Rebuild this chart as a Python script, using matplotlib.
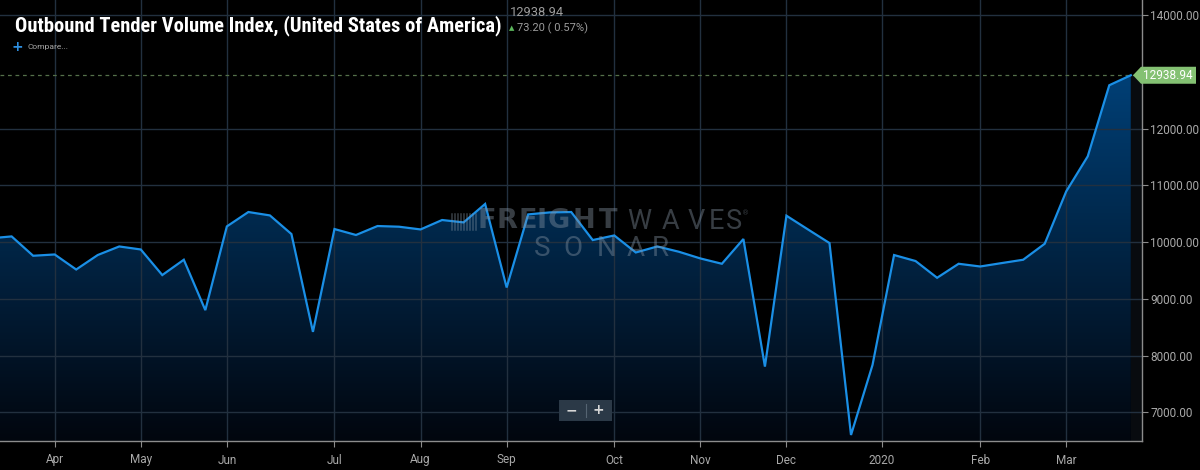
import numpy as np
import pandas as pd
import matplotlib
matplotlib.use('Agg')
import matplotlib.pyplot as plt
from matplotlib.colors import LinearSegmentedColormap
from matplotlib.patches import Polygon, Rectangle
from matplotlib.lines import Line2D

# ---------------- data ----------------
dates = pd.date_range('2019-03-17', '2020-03-22', freq='7D')   # weekly (Sundays)
values = [10065, 10099, 9758, 9781, 9516, 9771, 9922, 9869, 9418, 9688,
          8800, 10275, 10529, 10469, 10141, 8417, 10229, 10124, 10282, 10270,
          10222, 10388, 10346, 10671, 9199, 10487, 10522, 10529, 10035, 10116,
          9816, 9922, 9829, 9711, 9617, 10053, 7805, 10464, 10222, 9982,
          6600, 7835, 9771, 9665, 9370, 9617, 9569, 9629, 9688, 9970,
          10893, 11511, 12763, 12938.94]
y_ticks = [7000, 8000, 9000, 10000, 11000, 12000, 14000]
title = 'Outbound Tender Volume Index, (United States of America)'
last_value_text = '12938.94'
change_text = '73.20 ( 0.57%)'

# ---------------- figure ----------------
W, H = 1200, 470
fig = plt.figure(figsize=(W / 100, H / 100), dpi=100, facecolor='black')
def fx(px): return px / W
def fy(py): return 1 - py / H

ax = fig.add_axes([0, fy(441), fx(1142), 1 - fy(441)])
ax.set_facecolor('black')

x = np.arange(len(values)) - 1
vals = np.array(values, dtype=float)
ymin, ymax = 6494, 14265
xmin, xmax = -0.54, 52.52
ax.set_xlim(xmin, xmax)
ax.set_ylim(ymin, ymax)

# faint band right of the last point
ax.fill_between([x[-1], xmax], ymin, vals[-1], color='#080b0f', zorder=0.5, lw=0)

# gradient fill under the line
cmap = LinearSegmentedColormap.from_list('g', [(0, '#02060e'), (0.82, '#003f75'), (1.0, '#004a88')])
grad = np.linspace(0, 1, 256).reshape(-1, 1)
im = ax.imshow(grad, extent=[xmin, xmax, ymin, ymax], origin='lower', aspect='auto',
               cmap=cmap, zorder=1, interpolation='bicubic')
verts = list(zip(x, vals)) + [(x[-1], ymin), (x[0], ymin)]
poly = Polygon(verts, closed=True, facecolor='none', edgecolor='none', transform=ax.transData)
ax.add_patch(poly)
im.set_clip_path(poly)

ax.plot(x, vals, color='#1a8fe6', lw=1.6, zorder=4, solid_joinstyle='miter')

# last value dashed line
ax.axhline(vals[-1], color='#55704a', lw=0.9, ls=(0, (3, 3)), zorder=3)

# ticks: first weekly point of each month; year label at Jan 1
month_starts = pd.date_range('2019-04-01', '2020-03-01', freq='MS')
tick_pos, tick_lab = [], []
for m in month_starts:
    idx = int(np.argmax(dates >= m))
    if m.month == 1:
        pos = (idx - 1) + (m - dates[idx - 1]).days / 7.0 - 1
        tick_lab.append(str(m.year))
    else:
        pos = idx - 1
        tick_lab.append(m.strftime('%b'))
    tick_pos.append(pos)

ax.set_xticks(tick_pos)
ax.set_xticklabels(tick_lab)
ax.set_yticks(y_ticks)
ax.set_yticklabels([f'{v:.2f}' for v in y_ticks])
ax.yaxis.tick_right()
ax.grid(True, color='#22303f', lw=1.0, zorder=2)
ax.set_axisbelow(False)
for gl in ax.get_xgridlines() + ax.get_ygridlines():
    gl.set_zorder(2)

for s in ['left', 'top']:
    ax.spines[s].set_visible(False)
for s in ['right', 'bottom']:
    ax.spines[s].set_color('#8c8c8c')
    ax.spines[s].set_linewidth(1.0)
    ax.spines[s].set_zorder(5)

tick_font = ['Roboto', 'DejaVu Sans']
ax.tick_params(axis='both', colors='#8c8c8c', length=4, width=0.8, labelcolor='#a9a9a9',
               labelsize=8.5)
ax.tick_params(axis='x', pad=5)
ax.tick_params(axis='y', pad=2)
for lab in ax.get_xticklabels() + ax.get_yticklabels():
    lab.set_family(tick_font)

# price tag on right axis
ty = ax.transData.transform((0, vals[-1]))[1] / (fig.dpi * fig.get_figheight())
th = 17 / H
tag = Polygon([(fx(1133), ty), (fx(1141), ty + th / 2), (fx(1196), ty + th / 2),
               (fx(1196), ty - th / 2), (fx(1141), ty - th / 2)], closed=True,
              transform=fig.transFigure, facecolor='#84c173', edgecolor='none', zorder=10)
fig.patches.append(tag)
fig.text(fx(1168), ty, last_value_text, color='white', fontsize=8.5, ha='center', va='center',
         family=tick_font, zorder=11)

# title and header texts
fig.text(fx(15), fy(31.5), title, color='white', fontsize=14.8, fontweight='bold',
         family=['Roboto Condensed', 'Liberation Sans Narrow', 'DejaVu Sans'], va='baseline')
fig.text(fx(510), fy(12), last_value_text, color='#9c9c9c', fontsize=9.3, va='center', family=tick_font)
fig.text(fx(512), fy(28), '\u25B2', color='#5cb85c', fontsize=5, va='center', ha='center',
         family=['DejaVu Sans'])
fig.text(fx(517), fy(28), change_text, color='#9c9c9c', fontsize=8, va='center', family=tick_font)
fig.text(fx(17), fy(47), '+', color='#2d8fe0', fontsize=10, fontweight='bold', va='center',
         ha='center', family=['DejaVu Sans'])
fig.text(fx(27), fy(47), 'Compare...', color='#a9a9a9', fontsize=6, va='center', family=tick_font)

# watermark
wm_col = '#8593a2'
wm_a = 0.42
for cx, ch in zip([486.5, 507, 527.5, 541.5, 559, 584, 608.5], 'FREIGHT'):
    fig.text(fx(cx), fy(221.5), ch, color=wm_col, alpha=wm_a, fontsize=19.5, fontweight='heavy',
             family=['DejaVu Sans'], ha='center', va='center', zorder=6)
for cx, ch in zip([639, 670, 696, 716, 734], 'WAVES'):
    fig.text(fx(cx), fy(221.5), ch, color=wm_col, alpha=wm_a, fontsize=19.5, fontweight='normal',
             family=['Roboto', 'DejaVu Sans'], ha='center', va='center', zorder=6)
fig.text(fx(746), fy(213), '\u00AE', color=wm_col, alpha=wm_a, fontsize=5,
         family=['DejaVu Sans'], ha='center', va='center', zorder=6)
for cx, ch in zip([542, 573, 606.5, 636, 660], 'SONAR'):
    fig.text(fx(cx), fy(249), ch, color=wm_col, alpha=wm_a, fontsize=20, fontweight='normal',
             family=['Roboto', 'DejaVu Sans'], ha='center', va='center', zorder=6)
for i, bx in enumerate(np.linspace(452, 476, 9)):
    fig.lines.append(Line2D([fx(bx), fx(bx)], [fy(213.5), fy(229.5)], transform=fig.transFigure,
                            color=wm_col, alpha=wm_a, lw=1.1))

# zoom buttons
fig.patches.append(Rectangle((fx(559), fy(421)), fx(612) - fx(559), fy(400) - fy(421),
                             transform=fig.transFigure, facecolor='#2b3947', edgecolor='none', zorder=10))
fig.lines.append(Line2D([fx(585.5), fx(585.5)], [fy(404), fy(417)], transform=fig.transFigure,
                        color='#556472', lw=0.8, zorder=11))
fig.text(fx(571), fy(410.5), '\u2212', color='#d6d6d6', fontsize=10, fontweight='bold',
         ha='center', va='center', family=['DejaVu Sans'], zorder=11)
fig.text(fx(598), fy(410.5), '+', color='#d6d6d6', fontsize=10, fontweight='bold',
         ha='center', va='center', family=['DejaVu Sans'], zorder=11)

fig.savefig('out.png', dpi=100, facecolor='black')
